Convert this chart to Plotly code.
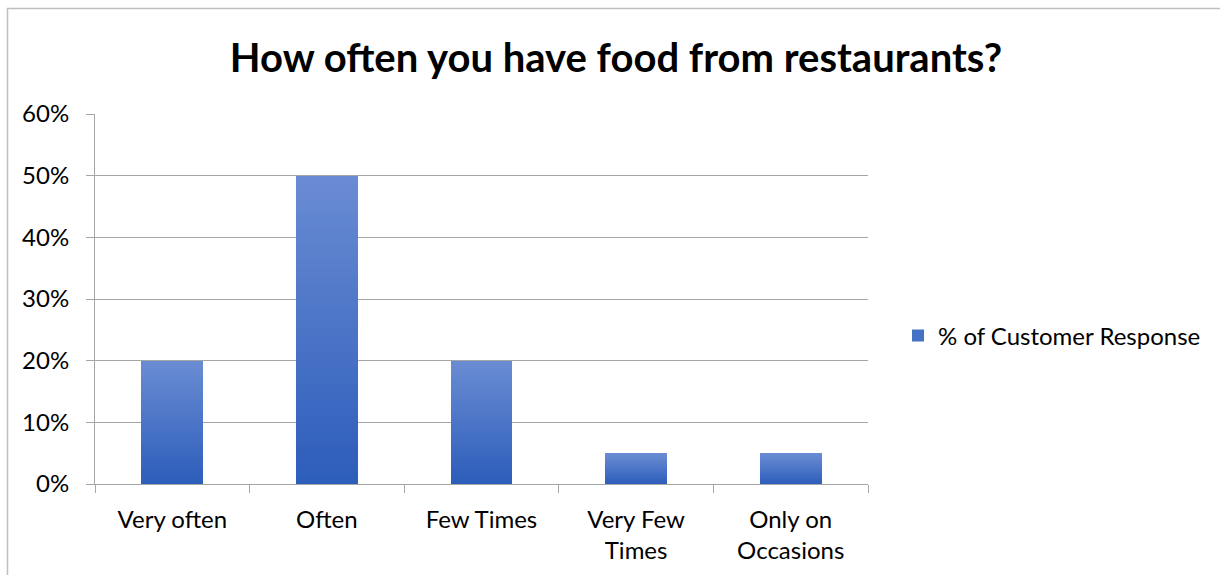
import plotly.graph_objects as go

categories = ["Very often", "Often", "Few Times", "Very Few<br>Times", "Only on<br>Occasions"]
responses = [0.20, 0.50, 0.20, 0.05, 0.05]
series_name = "% of Customer Response"
y_ticks = [0, 0.1, 0.2, 0.3, 0.4, 0.5, 0.6]
y_tick_labels = ["0%", "10%", "20%", "30%", "40%", "50%", "60%"]

FONT = "Lato"
TOP_RGB = (106, 140, 211)
BOTTOM_RGB = (44, 93, 186)
N_SEG = 40


def blend(t):
    r, g, b = (round(BOTTOM_RGB[i] + (TOP_RGB[i] - BOTTOM_RGB[i]) * t) for i in range(3))
    return f"rgb({r},{g},{b})"


fig = go.Figure()

# Each bar is split into equal stacked slices so its fill fades from dark
# at the base to light at the top.
for k in range(N_SEG):
    fig.add_trace(go.Bar(
        x=categories,
        y=[v / N_SEG for v in responses],
        marker=dict(color=blend((k + 0.5) / N_SEG), line=dict(width=0)),
        name=series_name,
        legendgroup="resp",
        showlegend=False,
        hoverinfo="skip",
    ))

# Legend entry for the series
fig.add_trace(go.Bar(
    x=[categories[0]], y=[None],
    marker=dict(color="#4472C4", line=dict(width=0)),
    name=series_name, legendgroup="resp", showlegend=True,
))

PLOT_L, PLOT_R, PLOT_T, PLOT_B = 95, 868, 114, 484
W, H = 1220, 575
pw, ph = PLOT_R - PLOT_L, PLOT_B - PLOT_T


def px_x(p):
    return (p - PLOT_L) / pw


def px_y(p):
    return (PLOT_B - p) / ph


fig.update_layout(
    width=W, height=H,
    barmode="stack",
    bargap=0.6,
    paper_bgcolor="white",
    plot_bgcolor="white",
    margin=dict(l=PLOT_L, r=W - PLOT_R, t=PLOT_T, b=H - PLOT_B, pad=0),
    font=dict(family=FONT, size=24, color="#000000"),
    title=dict(
        text="<b>How often you have food from restaurants?</b>",
        font=dict(family=FONT, size=40, color="#000000"),
        x=616 / W, xanchor="center",
        y=1 - 58 / H, yanchor="middle",
    ),
    xaxis=dict(
        type="category",
        tickson="boundaries",
        ticks="outside", ticklen=8, tickcolor="#a6a6a6", tickwidth=1,
        showline=True, linecolor="#a6a6a6", linewidth=1,
        showgrid=False,
        ticklabelstandoff=14,
        tickfont=dict(family=FONT, size=24, color="#000000"),
    ),
    yaxis=dict(
        range=[0, 0.6],
        tickvals=y_ticks, ticktext=y_tick_labels,
        ticks="outside", ticklen=8, tickcolor="#a6a6a6", tickwidth=1,
        showline=True, linecolor="#a6a6a6", linewidth=1,
        showgrid=True, gridcolor="#a6a6a6", gridwidth=1,
        zeroline=False,
        ticklabelstandoff=12,
        tickfont=dict(family=FONT, size=24, color="#000000"),
    ),
    legend=dict(
        x=px_x(898), xanchor="left",
        y=px_y(336), yanchor="middle",
        font=dict(family=FONT, size=24, color="#000000"),
        bgcolor="rgba(0,0,0,0)",
        itemwidth=30,
    ),
    shapes=[dict(
        type="rect", xref="paper", yref="paper", layer="below",
        x0=px_x(7.5), x1=px_x(1300), y0=px_y(700), y1=px_y(8.5),
        line=dict(color="#bfbfbf", width=1.5), fillcolor="rgba(0,0,0,0)",
    )],
)

fig.write_html("out.html")
